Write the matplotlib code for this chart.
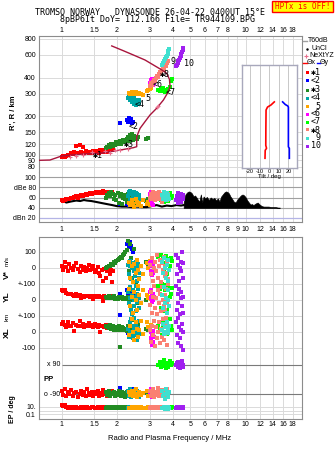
import numpy as np
import matplotlib
matplotlib.use("Agg")
import matplotlib.pyplot as plt
from matplotlib.ticker import NullLocator
from matplotlib.lines import Line2D
from matplotlib.patches import Rectangle
from matplotlib.transforms import blended_transform_factory

plt.rcParams['font.family'] = ['Liberation Sans', 'DejaVu Sans']

# ---------------- ticks / labels ----------------
freq_ticks = [1, 1.5, 2, 3, 4, 5, 6, 7, 8, 10, 12, 14, 16, 18]
freq_labels = ['1', '1.5', '2', '3', '4', '5', '6', '7', '8', '10', '12', '14', '16', '18']
freq_ticks_mid = [1, 1.5, 2, 3, 4, 5, 6, 7, 8, 9, 10, 12, 14, 16, 18]
freq_labels_mid = ['1', '1.5', '2', '3', '4', '5', '6', '7', '8', '9', '10', '12', '14', '16', '18']
height_ticks = [80, 90, 100, 120, 150, 200, 300, 400, 600, 800]
db_ticks = [20, 40, 60, 80, 100]
db_labels = ['dBn 20', '40', '60', 'dBe 80', '100']
tilt_ticks = [-20, -10, 0, 10, 20]

# ---------------- real-height profile and NeXtYZ marks ----------------
prof_f = [0.753, 0.864, 1.0, 1.31, 1.615, 1.99, 2.45, 2.556, 2.556, 2.665, 2.836, 3.02, 3.28,
          3.57, 3.75, 3.88, 3.85, 3.72, 3.50, 3.15, 2.836, 2.45, 2.16, 1.87]
prof_h = [90.2, 90.7, 97.5, 101, 102.3, 107.3, 113.2, 115.3, 138, 160.4, 180.9, 204, 230,
          267, 301, 339, 387, 431, 458, 501, 548, 600, 648, 706]
nx_f = [1.11, 1.20, 1.30, 1.455, 1.72, 1.83, 1.95, 2.07, 2.30, 3.28, 3.35]
nx_h = [96.5, 98, 99, 104, 107, 103, 108.8, 108.8, 111, 237, 240]

# ---------------- tilt inset ----------------
tiltx_h = [93.6, 108, 112, 118, 160, 223, 235, 244, 258]
tiltx_deg = [-4.4, -4.2, -2.8, -3.6, -3.5, -3.3, -1.8, 1.8, 5.3]
tilty_h = [93.6, 112, 115, 235, 240, 246, 258]
tilty_deg = [21, 21, 20, 20, 19.3, 16.8, 14]

# ---------------- noise (dBn) ----------------
noise_f = [1.00, 1.06, 1.12, 1.20, 1.26, 1.32, 1.37, 1.45, 1.55, 1.65, 1.76, 1.88, 1.99, 2.12,
           2.26, 2.40, 2.56, 2.72, 2.90, 3.08, 3.28, 3.50, 3.72, 3.95, 4.20, 4.45, 4.60]
noise_db = [55, 50, 52, 54, 53, 55, 54, 53, 51, 49, 47, 45, 43, 42,
            42, 41, 42, 41, 41, 43, 45, 42, 44, 43, 45, 44, 45]
spike_f = [4.60, 4.70, 4.80, 4.90, 5.00, 5.10, 5.20, 5.30, 5.40, 5.50, 5.60, 5.70, 5.80, 5.90,
           6.00, 6.15, 6.30, 6.45, 6.60, 6.75, 6.90, 7.05, 7.20, 7.35, 7.50, 7.65, 7.80, 7.95,
           8.10, 8.25, 8.40, 8.60, 8.80, 9.00, 9.20, 9.40, 9.60, 9.80, 10.0, 10.2, 10.4, 10.6,
           10.8, 11.0, 11.3, 11.6, 11.9, 12.2, 12.5, 12.9, 13.3, 13.7, 14.1, 14.5, 15.0, 15.3]
spike_db = [50, 66, 70, 72, 71, 68, 62, 64, 60, 55, 52, 66, 50, 62,
            58, 61, 55, 60, 57, 59, 54, 58, 52, 62, 66, 70, 72, 71,
            68, 62, 58, 52, 50, 56, 60, 64, 66, 64, 60, 54, 50, 46,
            47, 45, 48, 50, 46, 43, 42, 42, 42, 41, 41, 41, 40, 40]

# ---------------- traces: f [MHz], R' [km], dBe, V* [m/s], YL, XL [km], PP, EP [deg] ----------------
tr1_f = [1.00, 1.02, 1.04, 1.06, 1.08, 1.10, 1.12, 1.15, 1.17, 1.20, 1.22, 1.25, 1.27, 1.30, 1.32, 1.35,
         1.38, 1.40, 1.43, 1.46, 1.48, 1.51, 1.54, 1.57, 1.60, 1.62, 1.65, 1.68, 1.70, 1.73, 1.76, 1.79,
         1.82, 1.85, 1.88, 1.91]
tr1_h = [95, 97, 96, 98, 99, 100, 103, 101, 104, 116, 102, 118, 105, 114, 103, 106, 104, 102, 105, 103,
         106, 104, 107, 105, 103, 108, 106, 104, 109, 107, 105, 110, 108, 111, 109, 112]
tr1_db = [55, 54, 56, 57, 58, 57, 60, 59, 61, 62, 60, 63, 64, 62, 65, 66, 64, 67, 68, 66,
          69, 68, 70, 69, 71, 68, 70, 72, 69, 70, 67, 71, 66, 68, 70, 67]
tr1_v = [10, -10, 40, 5, -20, 25, 0, -15, 10, 30, -5, -25, 15, -10, 5, -20, 0, 20, -15, -5,
         10, -25, -10, 5, -30, -50, -15, -80, -5, -60, -20, 5, -40, -10, -90, -20]
tr1_yl = [60, 58, 62, 45, 40, 35, 38, 30, 28, 35, 25, 30, 10, 28, 20, 25, 22, 24, 18, 22,
          5, 20, 23, 19, 24, 21, 18, -5, 25, 20, 16, 21, 19, 15, 22, 18]
tr1_xl = [50, 65, 45, 30, 60, 40, 35, 55, 5, 45, 40, 70, 35, 50, 30, 45, 40, 55, 35, 42,
          30, 48, 38, 33, 45, 2, 40, 35, 30, 42, 25, 38, 32, 20, 35, 28]
tr1_pp = [-70, -95, -60, -105, -80, -90, -65, -100, -85, -75, -110, -90, -70, -95, -80, -100, -60, -85,
          -95, -75, -105, -90, -80, -70, -100, -85, -95, -65, -90, -80, -105, -75, -95, -85, -70, -90]
tr1_ep = [22, 15, 25, 7, 6, 8, 5, 7, 6, 8, 5, 6, 7, 5, 8, 6, 7, 5, 6, 8,
          7, 5, 6, 7, 8, 5, 6, 7, 5, 8, 6, 7, 5, 6, 7, 6]

tr2_f = [2.07, 2.25, 2.28, 2.31, 2.34, 2.37, 2.40, 2.44]
tr2_h = [178, 186, 180, 192, 183, 188, 176, 181]
tr2_db = [48, 47, 50, 46, 52, 49, 45, 50]
tr2_v = [60, 150, 170, 130, 160, 140, 120, 100]
tr2_yl = [40, 60, 35, 50, 30, 55, 45, 38]
tr2_xl = [105, 10, -5, 5, 0, 12, -3, 8]
tr2_pp = [-50, -80, -95, -70, -100, -85, -60, -90]
tr2_ep = [8, 6, 5, 7, 5, 6, 4, 7]

tr3_f = [1.74, 1.77, 1.80, 1.83, 1.86, 1.89, 1.92, 1.95, 1.98, 2.01, 2.04, 2.07, 2.10, 2.13, 2.16,
         2.19, 2.22, 2.26, 2.30, 2.33, 2.36, 2.39, 2.42, 2.45, 2.48, 2.52, 2.56, 2.60, 2.88, 2.96]
tr3_h = [112, 115, 118, 114, 120, 117, 122, 119, 125, 121, 124, 128, 122, 126, 130,
         125, 128, 132, 138, 127, 142, 135, 145, 130, 140, 137, 133, 136, 132, 134]
tr3_db = [60, 65, 68, 62, 70, 66, 58, 64, 55, 68, 50, 62, 66, 48, 60,
          64, 57, 52, 66, 60, 70, 55, 62, 58, 65, 50, 60, 56, 54, 58]
tr3_v = [0, 5, 15, 10, 25, 20, 35, 30, 45, 50, 55, 60, 70, 65, 80,
         90, 100, 110, 170, -20, 150, 60, -60, 30, 120, -90, -30, 10, 40, 20]
tr3_yl = [20, 15, 25, 10, 18, 12, 22, 8, 15, 5, 20, 10, 12, 18, 8,
          15, 5, 10, 20, -10, 60, 0, 30, -40, 15, 5, -20, 25, 0, 10]
tr3_xl = [40, 30, 25, 45, 20, 35, 15, 30, 25, 10, 35, -95, 15, 30, 25,
          10, 20, 5, 40, -20, 60, 10, 75, -5, 30, 0, 15, 50, 20, 10]
tr3_pp = [-80, -95, -70, -100, -85, -90, -75, -105, -85, -95, -70, -90, -100, -80, -95,
          -85, -110, -75, -90, -100, -65, -85, -95, -80, -105, -90, -75, -95, -85, -90]
tr3_ep = [6, 7, 5, 8, 6, 5, 7, 6, 8, 5, 6, 7, 5, 6, 8, 7, 5, 6, 7, 8, 5, 6, 7, 5, 6, 8, 7, 6, 5, 7]

tr4_f = [2.30, 2.32, 2.34, 2.36, 2.38, 2.40, 2.42, 2.44, 2.46, 2.48, 2.50, 2.52, 2.54, 2.56, 2.58,
         2.60, 2.62, 2.64]
tr4_h = [275, 285, 265, 280, 270, 258, 290, 262, 250, 275, 255, 245, 268, 250, 260, 248, 255, 265]
tr4_db = [62, 70, 58, 72, 66, 55, 68, 60, 71, 64, 57, 69, 63, 52, 67, 60, 65, 58]
tr4_v = [20, -40, 10, 45, -70, 0, 30, -90, -20, 15, -50, 35, -10, -80, 5, 25, -30, -60]
tr4_yl = [50, -20, 80, 10, -60, 30, -90, 60, 0, -40, 20, 90, -70, 40, -10, 70, -50, 15]
tr4_xl = [20, -30, 60, 0, 80, -10, 40, -40, 10, 90, -20, 30, 50, -50, 5, 25, 70, -15]
tr4_pp = [-70, -100, -85, -60, -110, -90, -75, -95, -80, -105, -65, -90, -85, -100, -70, -95, -80, -110]
tr4_ep = [6, 8, 5, 10, 4, 7, 9, 5, 6, 8, 4, 7, 5, 9, 6, 5, 8, 4]

tr5_f = [2.33, 2.36, 2.40, 2.44, 2.48, 2.52, 2.56, 2.60, 2.64, 2.70, 2.76, 2.90, 2.95, 3.00, 3.05]
tr5_h = [305, 300, 310, 295, 302, 308, 298, 300, 305, 295, 290, 312, 318, 325, 332]
tr5_db = [50, 45, 55, 48, 42, 58, 52, 46, 50, 44, 56, 48, 52, 45, 50]
tr5_v = [40, -60, 10, -90, 25, -30, 50, -10, -70, 15, -40, 30, 0, 45, -20]
tr5_yl = [70, -40, 20, -80, 50, 0, -60, 90, 30, -20, 60, 30, 10, 20, 5]
tr5_xl = [-20, 40, 80, 0, -50, 60, 20, -30, 10, 70, -10, 60, 30, 10, 45]
tr5_pp = [-80, -95, -70, -100, -85, -60, -110, -90, -75, -95, -85, -70, -100, -90, -80]
tr5_ep = [6, 5, 8, 4, 7, 5, 9, 6, 4, 7, 5, 6, 8, 5, 6]

tr6_f = [3.02, 3.04, 3.06, 3.08, 3.10, 3.12, 3.14, 3.17]
tr6_h = [360, 380, 355, 392, 370, 350, 385, 365]
tr6_db = [66, 55, 70, 48, 62, 58, 45, 64]
tr6_v = [30, -20, 40, -45, 10, -30, 20, -10]
tr6_yl = [50, 10, 60, -10, 30, 0, 40, 20]
tr6_xl = [10, -40, 0, -80, -20, -60, 5, -30]
tr6_pp = [-80, -100, -60, -90, -110, -70, -95, -85]
tr6_ep = [6, 8, 5, 7, 4, 9, 6, 5]

tr7_f = [3.35, 3.40, 3.45, 3.50, 3.55, 3.60, 3.65, 3.70, 3.75, 3.80, 3.86, 3.92, 3.98]
tr7_h = [320, 312, 325, 315, 330, 318, 310, 322, 314, 328, 340, 375, 390]
tr7_db = [58, 62, 55, 66, 60, 52, 64, 57, 61, 54, 68, 59, 63]
tr7_v = [70, 50, 80, 40, 60, -20, 30, 75, -40, 55, 10, 65, 45]
tr7_yl = [90, 70, -50, 100, 80, -70, 60, 95, -60, 85, 20, 40, 75]
tr7_xl = [40, 10, 60, -20, 30, 70, 0, 50, -10, 20, 80, 35, 15]
tr7_pp = [90, 110, 75, 100, 85, 120, 95, 70, 105, 80, 115, 90, 100]
tr7_ep = [7, 5, 9, 6, 4, 8, 5, 7, 6, 9, 5, 6, 8]

tr8_f = [3.00, 3.05, 3.10, 3.14, 3.18, 3.22, 3.26, 3.30, 3.34, 3.38, 3.42, 3.46, 3.50, 3.54, 3.58,
         3.62, 3.66, 3.70, 3.74, 3.78]
tr8_h = [345, 360, 350, 372, 385, 378, 398, 410, 402, 425, 440, 430, 455, 470, 462, 490, 505, 495, 520, 535]
tr8_db = [60, 66, 58, 70, 62, 55, 68, 64, 57, 71, 60, 66, 52, 63, 69, 58, 65, 61, 56, 67]
tr8_v = [20, -40, 60, -80, 0, 40, -20, 80, -60, 10, 50, -90, 30, -10, 70, -50, 15, -30, 45, -70]
tr8_yl = [-30, 50, -80, 20, 90, -50, 10, -90, 60, -20, 40, -70, 80, 0, -40, 30, -60, 70, -10, 100]
tr8_xl = [10, -60, 40, -20, 70, -90, 30, -40, 0, 60, -70, 20, -30, 80, -50, 50, -10, 90, -80, 25]
tr8_pp = [-70, -100, -85, -60, -110, -90, -75, -95, -55, -105, -80, -90, -65, -100, -85, -110, -75, -95, -60, -90]
tr8_ep = [6, 8, 5, 7, 9, 4, 6, 8, 5, 7, 4, 6, 9, 5, 7, 8, 4, 6, 5, 7]

tr9_f = [3.52, 3.56, 3.60, 3.64, 3.68, 3.72, 3.76, 3.80, 3.84]
tr9_h = [505, 520, 540, 555, 575, 590, 615, 640, 665]
tr9_db = [65, 58, 70, 62, 55, 68, 60, 64, 57]
tr9_v = [40, -30, 60, 0, -60, 20, -80, 50, -10]
tr9_yl = [30, -50, 80, -20, 10, -80, 60, 0, -40]
tr9_xl = [10, 50, -10, 30, 0, 60, 20, -5, 40]
tr9_pp = [-70, -100, -90, -120, -60, -85, -110, -95, -75]
tr9_ep = [6, 4, 8, 2, 5, 7, 3, 9, 5]

tr10_f = [4.18, 4.22, 4.26, 4.30, 4.34, 4.38, 4.42, 4.46, 4.50, 4.54, 4.58]
tr10_h = [495, 505, 520, 535, 550, 570, 590, 610, 630, 655, 680]
tr10_db = [55, 62, 68, 50, 65, 58, 66, 52, 60, 64, 57]
tr10_v = [80, -40, 20, 60, -80, 0, 40, -20, 100, -60, 30]
tr10_yl = [90, -60, 40, -20, 70, -90, 10, 50, -40, 20, -80]
tr10_xl = [60, -20, 90, -70, 30, -40, 10, -90, 50, 0, -112]
tr10_pp = [90, 105, 80, 110, 95, 70, 100, 85, 115, 90, 75]
tr10_ep = [6, 8, 5, 7, 9, 5, 6, 8, 4, 7, 6]

trace_colors = ['#ff0000', '#0000ff', '#228b22', '#00a6a6', '#ffa500',
                '#ff00ff', '#00ff00', '#fa8072', '#40e0d0', '#a020f0']
trace_names = ['\u27311', '<2', '\u27313', '<4', ' 5', '<6', '<7', '\u27318', ' 9', '10']

# labels next to traces in the R' panel (text, f, h)
lab_text = ['\u27311', '\u27313', '<2', '<4', '5', '<6', '<7', '\u27318', '9', '10']
lab_f = [1.48, 2.17, 2.31, 2.49, 2.85, 3.13, 3.66, 3.40, 3.88, 4.59]
lab_h = [97.5, 119, 165, 246, 275, 350, 308, 422, 538, 516]

# ---------------- figure ----------------
W, H = 335, 451
fig = plt.figure(figsize=(W / 100, H / 100), dpi=100)
fig.patch.set_facecolor('white')

def add_ax(l, t, r, b, **kw):
    return fig.add_axes([l / W, 1 - b / H, (r - l) / W, (b - t) / H], **kw)

def ftext(x, y, s, **kw):
    return fig.text(x / W, 1 - y / H, s, **kw)

XLIM = (0.753, 20.2)
GRID = '#dadada'
SPINE = '#8c8c8c'
MONO = ['DejaVu Sans Mono', 'DejaVu Sans']
TS = 5

def base_style(ax, grid_ticks):
    ax.set_xscale('log')
    ax.set_xlim(*XLIM)
    for s in ax.spines.values():
        s.set_color(SPINE)
        s.set_linewidth(0.8)
    ax.tick_params(length=0, labelsize=TS, pad=2.2)
    for v in grid_ticks:
        ax.axvline(v, color=GRID, lw=0.7, zorder=0)

# ---- R' panel ----
ax_h = add_ax(39, 36, 302, 172)
base_style(ax_h, freq_ticks_mid)
ax_h.set_yscale('log')
ax_h.set_ylim(73.1, 844)
ax_h.set_yticks(height_ticks)
ax_h.set_yticklabels([str(t) for t in height_ticks])
ax_h.xaxis.tick_top()
ax_h.set_xticks(freq_ticks)
ax_h.set_xticklabels(freq_labels)
ax_h.tick_params(axis='x', pad=1.2)
ax_h.xaxis.set_minor_locator(NullLocator())
ax_h.yaxis.set_minor_locator(NullLocator())
ax_h.spines['bottom'].set_visible(False)
for t in height_ticks:
    ax_h.axhline(t, color=GRID, lw=0.7, zorder=0)

# ---- dBe panel ----
ax_db = add_ax(39, 172, 302, 222)
base_style(ax_db, freq_ticks_mid)
ax_db.set_ylim(11.5, 110.5)
ax_db.set_yticks(db_ticks)
ax_db.set_yticklabels(db_labels)
ax_db.set_xticks(freq_ticks_mid)
ax_db.set_xticklabels(freq_labels_mid)
ax_db.xaxis.set_minor_locator(NullLocator())
ax_db.tick_params(axis='x', pad=2.6)
ax_db.spines['top'].set_visible(False)
for t in [40, 60, 80, 100]:
    ax_db.axhline(t, color='#a0a0a0', lw=0.8, zorder=0.5)
ax_db.axhline(20, color='#b4b4e6', lw=0.9, zorder=0.5)

# ---- lower panel (V*, YL, XL, PP, EP rows) ----
ax_lo = add_ax(39, 236.7, 302, 418.8)
base_style(ax_lo, freq_ticks_mid)
ax_lo.set_ylim(418.8, 236.7)

def v_row(v): return 268 - 0.16 * np.asarray(v, float)
def yl_row(v): return 300 - 0.16 * np.asarray(v, float)
def xl_row(v): return 332 - 0.16 * np.asarray(v, float)
def pp_row(p): return 379.5 - np.asarray(p, float) * 14.5 / 90
def ep_row(e): return 406.7 - 3.8 * np.log10(np.asarray(e, float) / 10)

row_pos = [float(v_row(100)), float(v_row(0)), float(yl_row(100)), float(yl_row(0)),
           float(xl_row(100)), float(xl_row(0)), float(xl_row(-100)),
           float(ep_row(10)), float(ep_row(0.1))]
row_labels = ['100', '0', '+-100', '0', '+-100', '0', '-100', '10.', '0.1']
ax_lo.set_yticks(row_pos)
ax_lo.set_yticklabels(row_labels)
ax_lo.set_xticks(freq_ticks)
ax_lo.set_xticklabels(freq_labels)
ax_lo.xaxis.set_minor_locator(NullLocator())
ax_lo.tick_params(axis='x', pad=1.8)
for r in row_pos + [float(ep_row(1))]:
    ax_lo.axhline(r, color=GRID, lw=0.7, zorder=0)
for p in [90, -90]:
    ax_lo.hlines(float(pp_row(p)), 1.0, XLIM[1], color='#7a7a7a', lw=0.8, zorder=0.5)
bt = blended_transform_factory(ax_lo.transAxes, ax_lo.transData)
ax_lo.text((60.5 - 39) / 263, float(pp_row(90)), 'x 90', transform=bt, ha='right', va='center', fontsize=TS)
ax_lo.text((60.5 - 39) / 263, float(pp_row(-90)), 'o -90', transform=bt, ha='right', va='center', fontsize=TS)
ax_lo.text((43 - 39) / 263, float(pp_row(0)), 'PP', transform=bt, ha='left', va='center',
           fontsize=5.5, fontweight='bold')

# ---- noise curve ----
ax_db.plot(noise_f, noise_db, color='black', lw=1.5, zorder=2)
ax_db.fill_between(spike_f, 39.5, spike_db, color='black', lw=0.5, zorder=2)

# ---- traces ----
traces = [
    (tr1_f, tr1_h, tr1_db, tr1_v, tr1_yl, tr1_xl, tr1_pp, tr1_ep),
    (tr2_f, tr2_h, tr2_db, tr2_v, tr2_yl, tr2_xl, tr2_pp, tr2_ep),
    (tr3_f, tr3_h, tr3_db, tr3_v, tr3_yl, tr3_xl, tr3_pp, tr3_ep),
    (tr4_f, tr4_h, tr4_db, tr4_v, tr4_yl, tr4_xl, tr4_pp, tr4_ep),
    (tr5_f, tr5_h, tr5_db, tr5_v, tr5_yl, tr5_xl, tr5_pp, tr5_ep),
    (tr6_f, tr6_h, tr6_db, tr6_v, tr6_yl, tr6_xl, tr6_pp, tr6_ep),
    (tr7_f, tr7_h, tr7_db, tr7_v, tr7_yl, tr7_xl, tr7_pp, tr7_ep),
    (tr8_f, tr8_h, tr8_db, tr8_v, tr8_yl, tr8_xl, tr8_pp, tr8_ep),
    (tr9_f, tr9_h, tr9_db, tr9_v, tr9_yl, tr9_xl, tr9_pp, tr9_ep),
    (tr10_f, tr10_h, tr10_db, tr10_v, tr10_yl, tr10_xl, tr10_pp, tr10_ep),
]
MS = 7.5
for (f, h, db, v, yl, xl, pp, ep), c in zip(traces, trace_colors):
    kw = dict(s=MS, marker='s', color=c, linewidths=0, zorder=3)
    ax_h.scatter(f, h, **kw)
    ax_db.scatter(f, db, **kw)
    ax_lo.scatter(f, v_row(v), **kw)
    ax_lo.scatter(f, yl_row(yl), **kw)
    ax_lo.scatter(f, xl_row(xl), **kw)
    ax_lo.scatter(f, pp_row(pp), **kw)
    ax_lo.scatter(f, ep_row(ep), **kw)

# ---- profile ----
ax_h.plot(prof_f, prof_h, color='#a8143c', lw=1.0, zorder=4)
ax_h.plot(nx_f, nx_h, ls='none', marker='+', ms=3.2, mew=0.8, color='#e8708e', zorder=5)
for s, f, h in zip(lab_text, lab_f, lab_h):
    ax_h.text(f, h, s, fontsize=6, family=MONO, ha='left', va='center', zorder=6)

# ---- tilt inset ----
ax_in = add_ax(242.3, 65, 297.3, 167.7)
ax_in.set_zorder(6)
ax_in.set_yscale('log')
ax_in.set_ylim(79.0, 501)
ax_in.set_xlim(-28.1, 29.3)
ax_in.set_yticks([])
ax_in.yaxis.set_minor_locator(NullLocator())
ax_in.set_xticks(tilt_ticks)
ax_in.set_xticklabels([str(t) for t in tilt_ticks])
ax_in.tick_params(length=0, labelsize=4, pad=0.8)
for t in tilt_ticks:
    ax_in.axvline(t, color='#c8c8c8', lw=0.7, zorder=0)
for s in ax_in.spines.values():
    s.set_color('#a8a8bc')
    s.set_linewidth(1.0)
ax_in.set_xlabel('Tilt / deg', fontsize=4.3, labelpad=0.3)
ax_in.plot(tiltx_deg, tiltx_h, color='#ff0000', lw=1.2)
ax_in.plot(tilty_deg, tilty_h, color='#0000ff', lw=1.2)

# ---- axis titles ----
ftext(13, 113, "R', R / km", rotation=90, ha='center', va='center', fontsize=5.5, fontweight='bold')
ftext(7, 275, 'V*', rotation=90, ha='center', va='center', fontsize=6, fontweight='bold')
ftext(7, 261, 'm/s', rotation=90, ha='center', va='center', fontsize=4.5)
ftext(7, 297, 'YL', rotation=90, ha='center', va='center', fontsize=6, fontweight='bold')
ftext(7, 316.5, 'km', rotation=90, ha='center', va='center', fontsize=4.5)
ftext(7, 333, 'XL', rotation=90, ha='center', va='center', fontsize=6, fontweight='bold')
ftext(13, 409, 'EP / deg', rotation=90, ha='center', va='center', fontsize=5, fontweight='bold')
ftext(169.5, 438.7, 'Radio and Plasma Frequency / MHz', ha='center', va='center', fontsize=5.5)

# ---- titles ----
ftext(35, 12.5, 'TROMSO NORWAY   DYNASONDE 26-04-22 0400UT 15\u00b0E', family=MONO,
      fontsize=6, ha='left', va='center')
ftext(60, 20, '8pBP6It DoY= 112.166 File= TR944109.BPG', family=MONO,
      fontsize=6, ha='left', va='center')
fig.add_artist(Rectangle((271.7 / W, 1 - 12.3 / H), (333 - 271.7) / W, 11.3 / H,
                         transform=fig.transFigure, facecolor='#ffff00', edgecolor='#ff0000', lw=1))
ftext(302.4, 6.8, 'HPTx is OFF!', family=MONO, fontsize=5.5, color='#ff0000',
      ha='center', va='center')

# ---- legend (right margin) ----
def fline(x1, x2, y, **kw):
    fig.add_artist(Line2D([x1 / W, x2 / W], [1 - y / H, 1 - y / H], transform=fig.transFigure, **kw))

fline(303, 307, 41, color='#a0a0a0', lw=1)
ftext(308, 41, 'T60dB', fontsize=5, ha='left', va='center')
fig.add_artist(Line2D([306.5 / W], [1 - 49 / H], transform=fig.transFigure, marker='.', ms=1.5,
                      color='black', ls='none'))
ftext(311, 49, 'UnCl', fontsize=5, ha='left', va='center')
fig.add_artist(Line2D([305.5 / W], [1 - 55.7 / H], transform=fig.transFigure, marker='+', ms=3,
                      mew=0.8, color='#e8708e', ls='none'))
ftext(309.5, 55.7, 'NeXtYZ', fontsize=5, ha='left', va='center')
fline(302.5, 306.5, 63, color='#ff0000', lw=1)
ftext(306.5, 63, '\u0398x', fontsize=5, ha='left', va='center')
fline(316.5, 320, 63, color='#0000ff', lw=1)
ftext(320, 63, '\u0398y', fontsize=5, ha='left', va='center')
leg_y = [72.7, 80.7, 90, 98, 106, 114, 122, 130, 138, 146]
for yy, c, nm in zip(leg_y, trace_colors, trace_names):
    fig.add_artist(Rectangle((305.8 / W, 1 - (yy + 1.5) / H), 3 / W, 3 / H,
                             transform=fig.transFigure, facecolor=c, edgecolor='none'))
    ftext(311, yy, nm, family=MONO, fontsize=6, ha='left', va='center')

fig.savefig('out.png', dpi=100)
